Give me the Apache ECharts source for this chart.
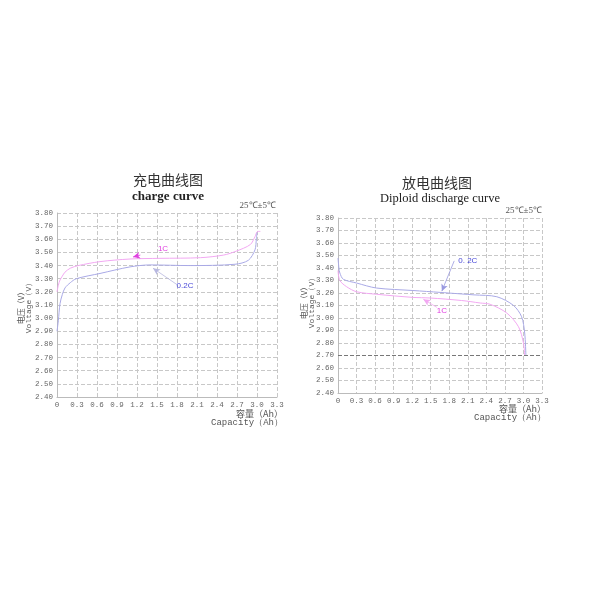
<!DOCTYPE html>
<html><head><meta charset="utf-8">
<script src="https://cdn.jsdelivr.net/npm/echarts@6/dist/echarts.min.js"></script>
<style>html,body{margin:0;padding:0;background:#fff}#c{width:600px;height:600px}</style>
</head><body><div id="c"></div>
<script>
// ---- data ----
var xTicks = [0, 0.3, 0.6, 0.9, 1.2, 1.5, 1.8, 2.1, 2.4, 2.7, 3.0, 3.3];
var yTicks = [2.40, 2.50, 2.60, 2.70, 2.80, 2.90, 3.00, 3.10, 3.20, 3.30, 3.40, 3.50, 3.60, 3.70, 3.80];

var charge1C = [[0,3.20],[0.02,3.25],[0.045,3.29],[0.08,3.32],[0.12,3.35],[0.2,3.38],[0.32,3.40],[0.645,3.43],[1.095,3.45],[1.545,3.455],[2.15,3.46],[2.5,3.48],[2.69,3.51],[2.9,3.56],[2.97,3.62],[3.01,3.66],[3.05,3.66]];
var charge02C = [[0,2.90],[0.02,2.98],[0.045,3.11],[0.08,3.18],[0.12,3.23],[0.2,3.27],[0.29,3.30],[0.645,3.34],[1.095,3.39],[1.395,3.405],[2.0,3.40],[2.67,3.41],[2.87,3.44],[2.97,3.52],[2.99,3.60],[3.0,3.65]];
var discharge02C = [[0,3.48],[0.015,3.40],[0.03,3.36],[0.086,3.31],[0.3,3.28],[0.62,3.24],[1.21,3.22],[1.65,3.205],[1.785,3.20],[2.2,3.185],[2.57,3.17],[2.84,3.10],[2.97,3.01],[3.02,2.88],[3.04,2.70]];
var discharge1C = [[0,3.38],[0.03,3.30],[0.14,3.25],[0.30,3.21],[0.62,3.19],[1.21,3.165],[1.49,3.16],[2.0,3.14],[2.30,3.12],[2.46,3.11],[2.73,3.04],[2.92,2.93],[3.0,2.80],[3.02,2.70]];
var cutoffV = 2.70;

var PINK = '#f2a8f2', BLUE = '#a9a9e6', PINKTXT = '#e040e0', BLUETXT = '#4a4ad8';

function xAxis(i){
  return {gridIndex:i, type:'value', min:xTicks[0], max:xTicks[xTicks.length-1], interval:0.3,
    axisLine:{lineStyle:{color:'#bbb'}}, axisTick:{show:false},
    splitLine:{show:true, lineStyle:{color:'#c8c8c8', type:'dashed'}},
    axisLabel:{color:'#666', fontFamily:'Liberation Mono', fontSize:7.5, margin:4,
      formatter:function(v){return v===0?'0':v.toFixed(1);}}};
}
function yAxis(i){
  return {gridIndex:i, type:'value', min:yTicks[0], max:yTicks[yTicks.length-1], interval:0.1,
    axisLine:{show:true, lineStyle:{color:'#bbb'}}, axisTick:{show:false},
    splitLine:{show:true, lineStyle:{color:'#c8c8c8', type:'dashed'}},
    axisLabel:{color:'#666', fontFamily:'Liberation Mono', fontSize:7.5, margin:4,
      formatter:function(v){return v.toFixed(2);}}};
}
function label(txt, coord, color){
  return {coord:coord, symbol:'circle', symbolSize:0, value:txt,
    label:{show:true, position:'inside', formatter:txt, color:color, fontSize:8, fontFamily:'Liberation Sans'}};
}
function arrow(from, to, color){
  return [{coord:from, lineStyle:{color:color, width:0.8, type:'solid'}}, {coord:to}];
}

var chart = echarts.init(document.getElementById('c'));
chart.setOption({
  animation:false,
  grid:[{left:57, top:213, width:220, height:184},{left:338, top:218, width:204, height:175}],
  xAxis:[xAxis(0), xAxis(1)],
  yAxis:[yAxis(0), yAxis(1)],
  series:[
    {type:'line', xAxisIndex:0, yAxisIndex:0, data:charge1C, smooth:0.3, showSymbol:false, lineStyle:{color:PINK, width:1},
      markPoint:{data:[label('1C',[1.59,3.527],PINKTXT)]},
      markLine:{silent:true, symbol:['none','arrow'], symbolSize:[5,7], label:{show:false}, data:[arrow([1.25,3.48],[1.14,3.465],PINKTXT)]}},
    {type:'line', xAxisIndex:0, yAxisIndex:0, data:charge02C, smooth:0.3, showSymbol:false, lineStyle:{color:BLUE, width:1},
      markPoint:{data:[label('0.2C',[1.92,3.245],BLUETXT)]},
      markLine:{silent:true, symbol:['none','arrow'], symbolSize:[5,7], label:{show:false}, data:[arrow([1.80,3.255],[1.44,3.38],'#b8b8e0')]}},
    {type:'line', xAxisIndex:1, yAxisIndex:1, data:discharge02C, smooth:0.3, showSymbol:false, lineStyle:{color:BLUE, width:1},
      markPoint:{data:[label('0. 2C',[2.10,3.46],BLUETXT)]},
      markLine:{silent:true, symbol:['none','arrow'], symbolSize:[5,7], label:{show:false}, data:[arrow([1.88,3.457],[1.68,3.215],'#9a9ae0')]}},
    {type:'line', xAxisIndex:1, yAxisIndex:1, data:discharge1C, smooth:0.3, showSymbol:false, lineStyle:{color:PINK, width:1},
      markPoint:{data:[label('1C',[1.68,3.056],PINKTXT)]},
      markLine:{silent:true, symbol:['none','arrow'], symbolSize:[5,7], label:{show:false}, data:[arrow([1.60,3.085],[1.38,3.15],PINK)]}},
    {type:'line', xAxisIndex:1, yAxisIndex:1, data:[], markLine:{silent:true, symbol:'none', label:{show:false},
      lineStyle:{color:'#777', type:'dashed', width:1}, data:[{yAxis:cutoffV}]}}
  ],
  graphic:[
    {type:'text', x:168, y:180, style:{text:'充电曲线图', font:'14px "Noto Sans CJK SC"', fill:'#333', align:'center', verticalAlign:'middle'}},
    {type:'text', x:168, y:197, style:{text:'charge curve', font:'bold 13px "Liberation Serif"', fill:'#222', align:'center', verticalAlign:'middle'}},
    {type:'text', x:276, y:206, style:{text:'25℃±5℃', font:'9px "Liberation Serif"', fill:'#555', align:'right', verticalAlign:'middle'}},
    {type:'text', x:437, y:183, style:{text:'放电曲线图', font:'14px "Noto Sans CJK SC"', fill:'#333', align:'center', verticalAlign:'middle'}},
    {type:'text', x:440, y:199, style:{text:'Diploid discharge curve', font:'12.5px "Liberation Serif"', fill:'#222', align:'center', verticalAlign:'middle'}},
    {type:'text', x:542, y:211, style:{text:'25℃±5℃', font:'9px "Liberation Serif"', fill:'#555', align:'right', verticalAlign:'middle'}},
    {type:'text', x:21, y:306, rotation:Math.PI/2, style:{text:'电压（V）', font:'8px "Noto Sans CJK SC"', fill:'#555', align:'center', verticalAlign:'middle'}},
    {type:'text', x:29, y:306, rotation:Math.PI/2, style:{text:'Voltage（V）', font:'8px "Liberation Mono"', fill:'#555', align:'center', verticalAlign:'middle'}},
    {type:'text', x:304, y:301, rotation:Math.PI/2, style:{text:'电压（V）', font:'8px "Noto Sans CJK SC"', fill:'#555', align:'center', verticalAlign:'middle'}},
    {type:'text', x:312, y:301, rotation:Math.PI/2, style:{text:'Voltage（V）', font:'8px "Liberation Mono"', fill:'#555', align:'center', verticalAlign:'middle'}},
    {type:'text', x:283, y:414, style:{text:'容量（Ah）', font:'9px "Noto Sans CJK SC"', fill:'#555', align:'right', verticalAlign:'middle'}},
    {type:'text', x:283, y:423, style:{text:'Capacity（Ah）', font:'9px "Liberation Mono"', fill:'#555', align:'right', verticalAlign:'middle'}},
    {type:'text', x:546, y:409, style:{text:'容量（Ah）', font:'9px "Noto Sans CJK SC"', fill:'#555', align:'right', verticalAlign:'middle'}},
    {type:'text', x:546, y:418, style:{text:'Capacity（Ah）', font:'9px "Liberation Mono"', fill:'#555', align:'right', verticalAlign:'middle'}}
  ]
});
</script></body></html>
